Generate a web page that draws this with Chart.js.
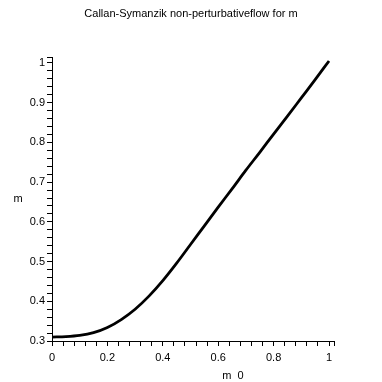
<!DOCTYPE html>
<html>
<head>
<meta charset="utf-8">
<script src="https://cdn.jsdelivr.net/npm/chart.js@4/dist/chart.umd.min.js"></script>
<style>
  html, body { margin: 0; padding: 0; background: #fff; }
  #wrap { width: 382px; height: 382px; }
</style>
</head>
<body>
<div id="wrap"><canvas id="flowChart" width="382" height="382"></canvas></div>
<script>
// m0 values (x) and the flowed m (y)
const m0Values = [0, 0.05, 0.1, 0.15, 0.2, 0.25, 0.3, 0.35, 0.4, 0.45, 0.5,
                  0.55, 0.6, 0.65, 0.7, 0.75, 0.8, 0.85, 0.9, 0.95, 1.0];
const mValues  = [0.310, 0.311, 0.314, 0.321, 0.334, 0.354, 0.380, 0.413, 0.452, 0.496, 0.543,
                  0.590, 0.637, 0.683, 0.730, 0.775, 0.821, 0.866, 0.912, 0.958, 1.005];

const xTickLabels = ['0', '0.2', '0.4', '0.6', '0.8', '1'];
const yTickLabels = ['0.3', '0.4', '0.5', '0.6', '0.7', '0.8', '0.9', '1'];

const FONT = 'Liberation Sans, Arial, Helvetica, sans-serif';
const TITLE = 'Callan-Symanzik non-perturbativeflow for m';

function labelFor(value, list) {
    const hit = list.find(l => Math.abs(parseFloat(l) - value) < 1e-6);
    return hit === undefined ? '' : hit;
}

// minor tick marks every `step`, plus the axis end
function stepTicks(scale, step) {
    const ticks = [];
    const n = Math.floor((scale.max - scale.min) / step + 1e-9);
    for (let i = 0; i <= n; i++) {
        ticks.push({ value: +(scale.min + i * step).toFixed(4) });
    }
    if (scale.max - ticks[ticks.length - 1].value > 1e-6) ticks.push({ value: scale.max });
    scale.ticks = ticks;
}

// title and axis names drawn as plain text, like the original (unrotated "m" on the left)
const textBits = {
    id: 'textBits',
    afterDraw(chart) {
        const ctx = chart.ctx;
        const area = chart.chartArea;
        ctx.save();
        ctx.fillStyle = '#000';
        ctx.font = '11px ' + FONT;
        ctx.textAlign = 'center';
        ctx.textBaseline = 'middle';
        ctx.fillText(TITLE, 191, 14);
        ctx.fillText('m', 18, (area.top + area.bottom) / 2);
        ctx.fillText('m  0', 233, 376);
        ctx.restore();
    }
};

function initChart() {
    const ctx = document.getElementById('flowChart').getContext('2d');

    new Chart(ctx, {
        type: 'line',
        data: {
            datasets: [{
                data: m0Values.map((x, i) => ({ x: x, y: mValues[i] })),
                borderColor: '#000',
                borderWidth: 2.8,
                pointRadius: 0,
                cubicInterpolationMode: 'monotone',
                fill: false
            }]
        },
        options: {
            responsive: false,
            animation: false,
            layout: { padding: { left: 12, right: 48, top: 57, bottom: 17 } },
            plugins: {
                legend: { display: false },
                tooltip: { enabled: false },
                title: { display: false }
            },
            scales: {
                x: {
                    type: 'linear',
                    min: 0,
                    max: 1.018,
                    afterFit: s => { s.height = 24; },
                    afterBuildTicks: s => stepTicks(s, 0.04),
                    border: { display: true, color: '#000', width: 1 },
                    grid: { drawOnChartArea: false, drawTicks: true, tickLength: 5, color: '#000' },
                    ticks: {
                        autoSkip: false,
                        maxRotation: 0,
                        padding: 5,
                        color: '#000',
                        font: { family: FONT, size: 11 },
                        callback: v => labelFor(v, xTickLabels)
                    }
                },
                y: {
                    type: 'linear',
                    min: 0.3,
                    max: 1.015,
                    afterFit: s => { s.width = 40; },
                    afterBuildTicks: s => stepTicks(s, 0.02),
                    border: { display: true, color: '#000', width: 1 },
                    grid: { drawOnChartArea: false, drawTicks: true, tickLength: 5, color: '#000' },
                    ticks: {
                        autoSkip: false,
                        padding: 2,
                        color: '#000',
                        font: { family: FONT, size: 11 },
                        callback: v => labelFor(v, yTickLabels)
                    }
                }
            }
        },
        plugins: [textBits]
    });
}

document.addEventListener('DOMContentLoaded', initChart);
</script>
</body>
</html>
